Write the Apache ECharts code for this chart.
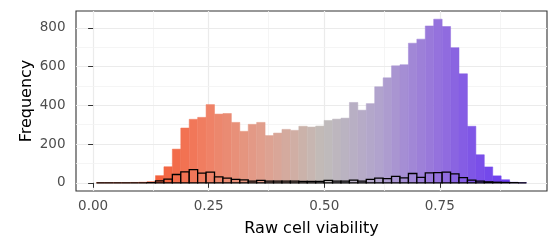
<!DOCTYPE html>
<html>
<head>
<meta charset="utf-8">
<script src="https://cdn.jsdelivr.net/npm/echarts@6/dist/echarts.min.js"></script>
<style>
html, body { margin: 0; padding: 0; background: #fff; }
#main { width: 548px; height: 242px; }
</style>
</head>
<body>
<div id="main"></div>
<script>
// histogram bins: left edge of first bin and bin width (viability units)
var binStart = 0.0073;
var binWidth = 0.01824;

// all cells, one count per bin
var allCounts = [1, 1, 1, 1, 2, 3, 6, 37, 83, 174,
                 283, 328, 338, 404, 355, 358, 312, 266, 302, 312,
                 244, 257, 276, 271, 292, 288, 293, 322, 329, 334,
                 415, 375, 409, 496, 542, 604, 610, 721, 742, 810,
                 845, 807, 698, 563, 292, 145, 82, 36, 16, 3,
                 1];

// outlined subset, same bins
var subsetCounts = [0, 0, 0, 0, 0, 0, 1, 10, 19, 43,
                    56, 68, 50, 55, 31, 24, 18, 15, 9, 13,
                    9, 9, 9, 9, 7, 7, 7, 13, 9, 9,
                    14, 9, 18, 24, 22, 33, 26, 48, 28, 51,
                    53, 55, 46, 27, 14, 9, 5, 3, 2, 1,
                    0];

var xTicks = [0, 0.25, 0.5, 0.75];
var xMinor = [0.125, 0.375, 0.625, 0.875];
var yTicks = [0, 200, 400, 600, 800];
var yMinor = [100, 300, 500, 700];

// fill colour along x
var fillStops = [[0.10, '#F85A33'], [0.15, '#F4633F'], [0.25, '#EF8166'], [0.37, '#E0A08E'],
                 [0.50, '#C0BCBA'], [0.62, '#B1A3CD'], [0.75, '#9470DD'], [0.86, '#7347EC'],
                 [0.93, '#6434F4']];

function hexRgb(h) {
    return [parseInt(h.substr(1, 2), 16), parseInt(h.substr(3, 2), 16), parseInt(h.substr(5, 2), 16)];
}
function fillAt(x) {
    if (x <= fillStops[0][0]) return fillStops[0][1];
    for (var i = 1; i < fillStops.length; i++) {
        if (x <= fillStops[i][0]) {
            var a = hexRgb(fillStops[i - 1][1]), b = hexRgb(fillStops[i][1]);
            var t = (x - fillStops[i - 1][0]) / (fillStops[i][0] - fillStops[i - 1][0]);
            return 'rgb(' + [0, 1, 2].map(function (k) { return Math.round(a[k] + (b[k] - a[k]) * t); }).join(',') + ')';
        }
    }
    return fillStops[fillStops.length - 1][1];
}

function toBins(counts) {
    return counts.map(function (n, i) {
        return [binStart + i * binWidth, binStart + (i + 1) * binWidth, n];
    });
}

function barRenderer(outlined) {
    return function (params, api) {
        var x0 = api.value(0), x1 = api.value(1), n = api.value(2);
        var p0 = api.coord([x0, 0]);
        var p1 = api.coord([x1, n]);
        var c = fillAt((x0 + x1) / 2);
        return {
            type: 'rect',
            shape: { x: p0[0], y: p1[1], width: p1[0] - p0[0], height: p0[1] - p1[1] },
            style: {
                fill: c,
                stroke: outlined ? '#000' : (n > 0 ? c : null),
                lineWidth: outlined ? 1.3 : 0.5
            }
        };
    };
}

var gridLines = [];
xTicks.forEach(function (v) { gridLines.push({ xAxis: v, lineStyle: { color: '#EBEBEB', width: 1.2, type: 'solid' } }); });
xMinor.forEach(function (v) { gridLines.push({ xAxis: v, lineStyle: { color: '#F3F3F3', width: 0.8, type: 'solid' } }); });
yTicks.forEach(function (v) { gridLines.push({ yAxis: v, lineStyle: { color: '#EBEBEB', width: 1.2, type: 'solid' } }); });
yMinor.forEach(function (v) { gridLines.push({ yAxis: v, lineStyle: { color: '#F3F3F3', width: 0.8, type: 'solid' } }); });

var myChart = echarts.init(document.getElementById('main'));
var option = {
    animation: false,
    textStyle: { fontFamily: 'DejaVu Sans' },
    grid: {
        left: 76, right: 1, top: 11, bottom: 50,
        show: true, borderColor: '#333', borderWidth: 1.1, backgroundColor: '#fff'
    },
    xAxis: {
        type: 'value',
        min: -0.037, max: 0.982,
        name: 'Raw cell viability',
        nameLocation: 'middle',
        nameGap: 30,
        nameMoveOverlap: false,
        nameTextStyle: { fontSize: 16, color: '#000' },
        axisLine: { show: false },
        axisTick: { length: 5, lineStyle: { color: '#333' }, customValues: xTicks },
        axisLabel: {
            customValues: xTicks, margin: 8, fontSize: 13.5, color: '#4D4D4D',
            formatter: function (v) { return v.toFixed(2); }
        },
        splitLine: { show: false }
    },
    yAxis: {
        type: 'value',
        min: -42.25, max: 887.25,
        name: 'Frequency',
        nameLocation: 'middle',
        nameGap: 41,
        nameMoveOverlap: false,
        nameTextStyle: { fontSize: 16, color: '#000' },
        axisLine: { show: false },
        axisTick: { length: 5, lineStyle: { color: '#333' }, customValues: yTicks },
        axisLabel: { customValues: yTicks, margin: 10.5, fontSize: 13.5, color: '#4D4D4D' },
        splitLine: { show: false }
    },
    series: [
        {
            type: 'line',
            data: [],
            z: 0,
            silent: true,
            markLine: { silent: true, symbol: 'none', label: { show: false }, z: 0, data: gridLines }
        },
        {
            type: 'custom',
            renderItem: barRenderer(false),
            encode: { x: [0, 1], y: 2 },
            data: toBins(allCounts),
            z: 2
        },
        {
            type: 'custom',
            renderItem: barRenderer(true),
            encode: { x: [0, 1], y: 2 },
            data: toBins(subsetCounts),
            z: 3
        }
    ]
};
myChart.setOption(option);
</script>
</body>
</html>
